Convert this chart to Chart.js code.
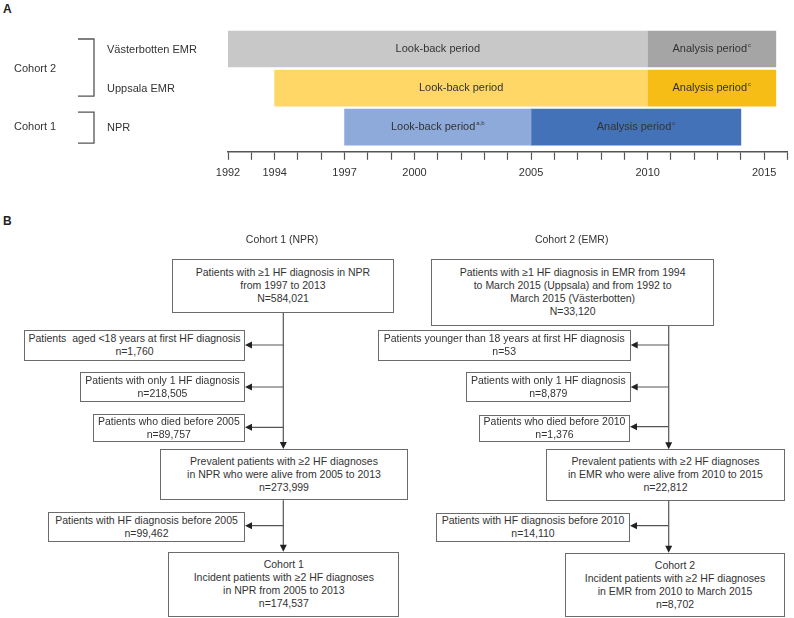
<!DOCTYPE html>
<html>
<head>
<meta charset="utf-8">
<script src="https://cdn.jsdelivr.net/npm/chart.js@4/dist/chart.umd.min.js"></script>
<style>
  body { margin: 0; width: 794px; height: 618px; position: relative; background: #fff; overflow: hidden;
         font-family: "Liberation Sans", Arial, sans-serif; color: #333; }
  #timelineWrap { position: absolute; left: 0; top: 0; width: 794px; height: 194px; }
  .panel { position: absolute; font-weight: bold; font-size: 12px; color: #222; }
  .box { position: absolute; box-sizing: border-box; border: 1px solid #6b6b6b; background: #fff;
         display: flex; flex-direction: column; justify-content: center; align-items: center;
         font-size: 10.5px; line-height: 13px; text-align: center; white-space: pre; color: #333; }
  .title { position: absolute; font-size: 10.5px; transform: translateX(-50%); white-space: nowrap; color: #333; }
  #flow { position: absolute; left: 0; top: 0; }
</style>
</head>
<body>
<div class="panel" style="left:3px;top:2px">A</div>
<div class="panel" style="left:3px;top:214px">B</div>
<div id="timelineWrap"><canvas id="timeline"></canvas></div>
<svg id="flow" width="794" height="618"></svg>

<script>
// ---- Panel A data ----
const rows = ['Västerbotten EMR', 'Uppsala EMR', 'NPR'];
const lookbackStart = [1992, 1994, 1997];
const analysisStart = [2010, 2010, 2005];
const periodEnd = [2015.5, 2015.5, 2014];
const lookbackSup = ['', '', 'a,b'];
const analysisSup = ['c', 'c', 'c'];
const yearLabels = [1992, 1994, 1997, 2000, 2005, 2010, 2015];
const cohortNames = ['Cohort 2', 'Cohort 1'];
const cohortFirstRow = [0, 2];
const cohortLastRow = [1, 2];

const lookbackColors = ['#c9c8c9', '#fed766', '#8eaadb'];
const analysisColors = ['#a5a5a5', '#f6bd17', '#4472b8'];

// ---- Panel B data ----
const flowTitles = ['Cohort 1 (NPR)', 'Cohort 2 (EMR)'];
const npr = [
  ['Patients with ≥1 HF diagnosis in NPR', 'from 1997 to 2013', 'N=584,021'],
  ['Patients  aged <18 years at first HF diagnosis', 'n=1,760'],
  ['Patients with only 1 HF diagnosis', 'n=218,505'],
  ['Patients who died before 2005', 'n=89,757'],
  ['Prevalent patients with ≥2 HF diagnoses', 'in NPR who were alive from 2005 to 2013', 'n=273,999'],
  ['Patients with HF diagnosis before 2005', 'n=99,462'],
  ['Cohort 1', 'Incident patients with ≥2 HF diagnoses', 'in NPR from 2005 to 2013', 'n=174,537']
];
const emr = [
  ['Patients with ≥1 HF diagnosis in EMR from 1994', 'to March 2015 (Uppsala) and from 1992 to', 'March 2015 (Västerbotten)', 'N=33,120'],
  ['Patients younger than 18 years at first HF diagnosis', 'n=53'],
  ['Patients with only 1 HF diagnosis', 'n=8,879'],
  ['Patients who died before 2010', 'n=1,376'],
  ['Prevalent patients with ≥2 HF diagnoses', 'in EMR who were alive from 2010 to 2015', 'n=22,812'],
  ['Patients with HF diagnosis before 2010', 'n=14,110'],
  ['Cohort 2', 'Incident patients with ≥2 HF diagnoses', 'in EMR from 2010 to March 2015', 'n=8,702']
];

// text inside the bars, drawn at the centre of each bar element
const barText = {
  id: 'barText',
  afterDatasetsDraw(chart) {
    const ctx = chart.ctx;
    chart.data.datasets.forEach((ds, di) => {
      chart.getDatasetMeta(di).data.forEach((bar, i) => {
        const cx = (bar.x + bar.base) / 2;
        const main = ds.label;
        const sup = ds.sups[i];
        ctx.save();
        ctx.font = '11px "Liberation Sans", Arial, sans-serif';
        const w1 = ctx.measureText(main).width;
        ctx.font = '6px "Liberation Sans", Arial, sans-serif';
        const w2 = sup ? ctx.measureText(sup).width + 1 : 0;
        const x0 = cx - (w1 + w2) / 2;
        ctx.fillStyle = '#333';
        ctx.textBaseline = 'middle';
        ctx.textAlign = 'left';
        ctx.font = '11px "Liberation Sans", Arial, sans-serif';
        ctx.fillText(main, x0, bar.y);
        if (sup) {
          ctx.font = '6px "Liberation Sans", Arial, sans-serif';
          ctx.fillText(sup, x0 + w1 + 1, bar.y - 3.5);
        }
        ctx.restore();
      });
    });
  }
};

// row names, cohort names and brackets on the left
const rowLabels = {
  id: 'rowLabels',
  afterDraw(chart) {
    const ctx = chart.ctx;
    const y = chart.scales.y;
    ctx.save();
    ctx.font = '11px "Liberation Sans", Arial, sans-serif';
    ctx.fillStyle = '#333';
    ctx.textBaseline = 'middle';
    ctx.textAlign = 'left';
    rows.forEach((r, i) => ctx.fillText(r, 107, y.getPixelForValue(i) + 1));
    cohortNames.forEach((c, k) => {
      const top = y.getPixelForValue(cohortFirstRow[k]);
      const bot = y.getPixelForValue(cohortLastRow[k]);
      const single = top === bot;
      const y1 = top - (single ? 15 : 10);
      const y2 = bot + (single ? 16 : 8);
      ctx.fillStyle = '#333';
      ctx.fillText(c, 14, (top + bot) / 2);
      ctx.strokeStyle = '#555';
      ctx.lineWidth = 1.3;
      ctx.beginPath();
      ctx.moveTo(78, y1);
      ctx.lineTo(94, y1);
      ctx.lineTo(94, y2);
      ctx.lineTo(78, y2);
      ctx.stroke();
    });
    ctx.restore();
  }
};

new Chart(document.getElementById('timeline'), {
  type: 'bar',
  data: {
    datasets: [
      {
        label: 'Look-back period',
        sups: lookbackSup,
        data: rows.map((r, i) => ({ y: i, x: [lookbackStart[i], analysisStart[i]] })),
        backgroundColor: lookbackColors
      },
      {
        label: 'Analysis period',
        sups: analysisSup,
        data: rows.map((r, i) => ({ y: i, x: [analysisStart[i], periodEnd[i]] })),
        backgroundColor: analysisColors
      }
    ]
  },
  options: {
    indexAxis: 'y',
    responsive: true,
    maintainAspectRatio: false,
    animation: false,
    grouped: false,
    barThickness: 36,
    layout: { padding: { left: 228, right: 2, top: 29.5, bottom: 8 } },
    plugins: { legend: { display: false }, tooltip: { enabled: false } },
    scales: {
      y: { type: 'linear', min: -0.5, max: 2.633, reverse: true, offset: false, grid: { offset: false }, display: false },
      x: {
        type: 'linear',
        min: 1992,
        max: 2016,
        grid: { drawOnChartArea: false, drawTicks: true, tickLength: 8, color: '#555', tickWidth: 1.2 },
        border: { display: true, color: '#555', width: 1.4 },
        ticks: {
          stepSize: 1,
          autoSkip: false,
          maxRotation: 0,
          padding: 6.5,
          color: '#333',
          font: { size: 11, family: '"Liberation Sans", Arial, sans-serif' },
          callback: v => yearLabels.includes(v) ? String(v) : ''
        }
      }
    }
  },
  plugins: [barText, rowLabels]
});

// ---- Panel B flow chart ----
const nprLayout = [
  [171.7, 259, 222.6, 53.5], [24, 330, 221, 30.5], [80, 371.7, 165, 30], [92.7, 414, 152.3, 27.7],
  [160.3, 449, 247.4, 51.3], [48, 512.3, 197, 29.4], [168.3, 551.7, 231, 65]
];
const emrLayout = [
  [431, 259.3, 283.3, 66.4], [377.7, 330, 253, 30.7], [466, 371.7, 164.7, 30], [479, 415, 151, 26.7],
  [546, 449.3, 239, 51.4], [436, 512.7, 194, 29], [565, 552.7, 220, 64.6]
];
const columns = [
  { boxes: npr, layout: nprLayout, trunk: 283.3, title: [282, 233], sides: [345, 387, 427.3, 525.7] },
  { boxes: emr, layout: emrLayout, trunk: 668.7, title: [571.7, 233], sides: [345, 387, 426.7, 525.7] }
];

const svg = document.getElementById('flow');
const NS = 'http://www.w3.org/2000/svg';
function line(x1, y1, x2, y2) {
  const l = document.createElementNS(NS, 'line');
  l.setAttribute('x1', x1); l.setAttribute('y1', y1);
  l.setAttribute('x2', x2); l.setAttribute('y2', y2);
  l.setAttribute('stroke', '#555'); l.setAttribute('stroke-width', '1.2');
  svg.appendChild(l);
}
function head(pts) {
  const p = document.createElementNS(NS, 'polygon');
  p.setAttribute('points', pts.map(q => q.join(',')).join(' '));
  p.setAttribute('fill', '#222');
  svg.appendChild(p);
}

columns.forEach((col, ci) => {
  const t = document.createElement('div');
  t.className = 'title';
  t.style.left = col.title[0] + 'px';
  t.style.top = col.title[1] + 'px';
  t.textContent = flowTitles[ci];
  document.body.appendChild(t);

  col.boxes.forEach((lines, bi) => {
    const [x, y, w, h] = col.layout[bi];
    const d = document.createElement('div');
    d.className = 'box';
    d.style.left = x + 'px'; d.style.top = y + 'px';
    d.style.width = w + 'px'; d.style.height = h + 'px';
    d.textContent = lines.join('\n');
    document.body.appendChild(d);
  });

  const L = col.layout, tx = col.trunk;
  // main trunk: first box -> prevalent box, prevalent box -> final cohort
  line(tx, L[0][1] + L[0][3], tx, L[4][1] - 6);
  head([[tx - 3.5, L[4][1] - 7], [tx + 3.5, L[4][1] - 7], [tx, L[4][1]]]);
  line(tx, L[4][1] + L[4][3], tx, L[6][1] - 6);
  head([[tx - 3.5, L[6][1] - 7], [tx + 3.5, L[6][1] - 7], [tx, L[6][1]]]);
  // side exclusions
  [1, 2, 3, 5].forEach((bi, k) => {
    const y = col.sides[k];
    const edge = L[bi][0] + L[bi][2];
    line(tx, y, edge + 6, y);
    head([[edge + 7, y - 3.5], [edge + 7, y + 3.5], [edge, y]]);
  });
});
</script>
</body>
</html>
